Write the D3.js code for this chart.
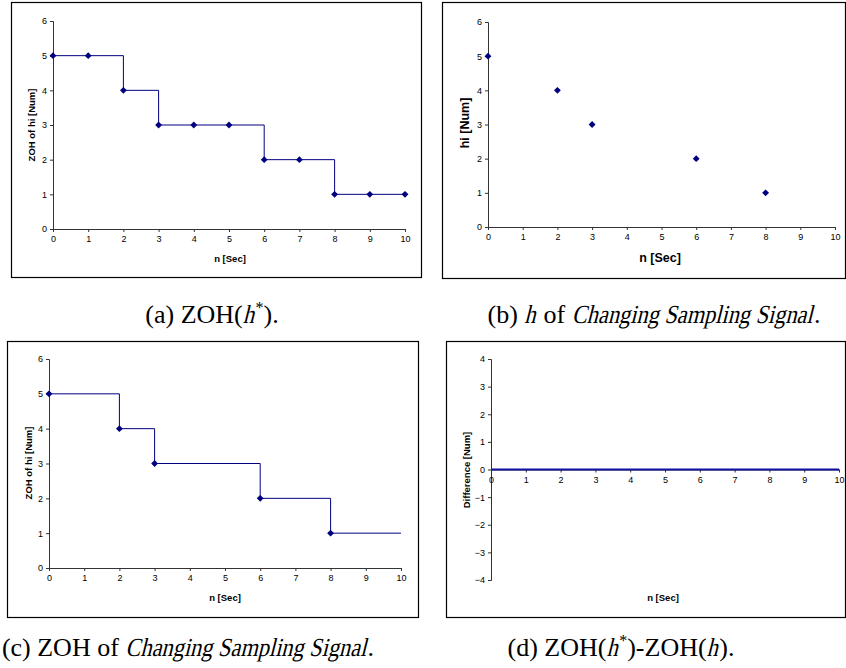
<!DOCTYPE html>
<html>
<head>
<meta charset="utf-8">
<script src="https://cdn.jsdelivr.net/npm/d3@7"></script>
<style>
  body { margin: 0; background: #fff; }
  svg { display: block; }
  .tick text { font-family: "Liberation Sans", Arial, sans-serif; fill: #000; }
  .cap { font-family: "Liberation Serif", "Times New Roman", serif; fill: #000; white-space: pre; }
</style>
</head>
<body>
<svg id="chart" width="846" height="668"></svg>
<script>
// data
const xTickVals = [0, 1, 2, 3, 4, 5, 6, 7, 8, 9, 10];
const yTicks06 = [0, 1, 2, 3, 4, 5, 6];
const yTicksDiff = [-4, -3, -2, -1, 0, 1, 2, 3, 4];

const zohStarN = [0, 1, 2, 3, 4, 5, 6, 7, 8, 9, 10];
const zohStarVals = [5, 5, 4, 3, 3, 3, 2, 2, 1, 1, 1];

const hN = [0, 2, 3, 6, 8];
const hVals = [5, 4, 3, 2, 1];

const zohHN = [0, 2, 3, 6, 8, 10];
const zohHVals = [5, 4, 3, 2, 1, 1];

const diffN = [0, 1, 2, 3, 4, 5, 6, 7, 8, 9, 10];
const diffVals = [0, 0, 0, 0, 0, 0, 0, 0, 0, 0, 0];

const NAVY = '#000080';
const svg = d3.select('#chart');

const diamond = d3.symbol().type(d3.symbolDiamond2 || d3.symbolDiamond).size(30);

function drawPanel(p) {
    const g = svg.append('g');
    // frame
    g.append('rect').attr('x', p.frame[0] + 0.5).attr('y', p.frame[1] + 0.5)
        .attr('width', p.frame[2]).attr('height', p.frame[3])
        .attr('fill', 'none').attr('stroke', '#000').attr('stroke-width', 1.2);

    const x = d3.scaleLinear().domain([0, 10]).range(p.xr);
    const y = d3.scaleLinear().domain(p.yd).range(p.yr);

    // y axis
    const ya = g.append('g').attr('transform', `translate(${x(0)},0)`)
        .call(d3.axisLeft(y).tickValues(p.yTicks).tickSize(3).tickPadding(3).tickFormat(d3.format('d')));
    ya.selectAll('text').style('font-size', p.tickFs + 'px');
    ya.selectAll('path,line').attr('stroke', '#333');

    // x axis (at y = 0)
    const xa = g.append('g').attr('transform', `translate(0,${y(0)})`)
        .call(d3.axisBottom(x).tickValues(xTickVals).tickSize(3).tickSizeOuter(0).tickPadding(4));
    xa.selectAll('text').style('font-size', p.tickFs + 'px');
    xa.selectAll('path,line').attr('stroke', '#333');

    // series line
    if (p.lineN) {
        const line = d3.line().x((d, i) => x(p.lineN[i])).y(d => y(d)).curve(p.step ? d3.curveStepAfter : d3.curveLinear);
        g.append('path').datum(p.lineV).attr('d', line)
            .attr('fill', 'none').attr('stroke', p.lineColor || NAVY).attr('stroke-width', p.lineW || 1);
    }
    // markers
    if (p.markN) {
        g.selectAll('.mk').data(p.markV).enter().append('path')
            .attr('d', diamond)
            .attr('transform', (d, i) => `translate(${x(p.markN[i])},${y(d)})`)
            .attr('fill', NAVY);
    }

    // axis titles
    g.append('text').attr('x', p.xl[0]).attr('y', p.xl[1]).attr('text-anchor', 'middle')
        .style('font-family', '"Liberation Sans", Arial, sans-serif').style('font-weight', 'bold')
        .style('font-size', p.titleFs + 'px').text('n [Sec]');
    g.append('text').attr('transform', `translate(${p.yl[0]},${p.yl[1]}) rotate(-90)`)
        .attr('text-anchor', 'middle')
        .style('font-family', '"Liberation Sans", Arial, sans-serif').style('font-weight', 'bold')
        .style('font-size', p.titleFs + 'px').text(p.yTitle);
}

drawPanel({
    frame: [11, 2, 410, 275], xr: [53, 405], yd: [0, 6], yr: [229, 21], yTicks: yTicks06,
    lineN: zohStarN, lineV: zohStarVals, step: true, markN: zohStarN, markV: zohStarVals,
    xl: [230, 262], yl: [35, 125], yTitle: 'ZOH of hi [Num]', tickFs: 9, titleFs: 9.5
});
drawPanel({
    frame: [442, 2, 403, 276], xr: [488, 835], yd: [0, 6], yr: [227, 22], yTicks: yTicks06,
    markN: hN, markV: hVals,
    xl: [660, 262], yl: [469, 123], yTitle: 'hi [Num]', tickFs: 9, titleFs: 12.5
});
drawPanel({
    frame: [7, 341, 411, 276], xr: [49, 401], yd: [0, 6], yr: [568, 359], yTicks: yTicks06,
    lineN: zohHN, lineV: zohHVals, step: true, markN: hN, markV: hVals,
    xl: [225, 601], yl: [32, 463], yTitle: 'ZOH of hi [Num]', tickFs: 9, titleFs: 9.5
});
drawPanel({
    frame: [446, 341, 399, 276], xr: [491, 839], yd: [-4, 4], yr: [580, 359], yTicks: yTicksDiff,
    lineN: diffN, lineV: diffVals, step: false, lineW: 2.2, lineColor: '#1010a0',
    xl: [663, 601], yl: [470, 470], yTitle: 'Difference [Num]', tickFs: 9, titleFs: 9.5
});

// captions: pieces laid out one after another, italic pieces slanted and narrowed by hand
const CAP_FS = 26;
function caption(xc, yb, parts) {
    const g = svg.append('g');
    let cx = 0;
    parts.forEach(p => {
        const fs = p.sup ? CAP_FS * 0.62 : CAP_FS;
        const dy = p.sup ? -CAP_FS * 0.38 : 0;
        const sx = p.i ? 0.86 : 1;
        const t = g.append('text').attr('class', 'cap').style('font-size', fs + 'px')
            .attr('xml:space', 'preserve')
            .attr('transform', `translate(${cx},${dy})` + (p.i ? ` skewX(-14) scale(${sx},1)` : ''))
            .text(p.t.replace(/ /g, '\u00a0'));
        cx += t.node().getComputedTextLength() * sx + (p.i ? 1.5 : 0);
    });
    g.attr('transform', `translate(${xc - cx / 2},${yb})`);
}
caption(212, 323, [{ t: '(a) ZOH(' }, { t: 'h', i: true }, { t: '*', sup: true }, { t: ').' }]);
caption(654, 323, [{ t: '(b) ' }, { t: 'h', i: true }, { t: ' of ' }, { t: 'Changing Sampling Signal', i: true }, { t: '.' }]);
caption(188, 656, [{ t: '(c) ZOH of ' }, { t: 'Changing Sampling Signal', i: true }, { t: '.' }]);
caption(621, 656, [{ t: '(d) ZOH(' }, { t: 'h', i: true }, { t: '*', sup: true }, { t: ')-ZOH(' }, { t: 'h', i: true }, { t: ').' }]);
</script>
</body>
</html>
